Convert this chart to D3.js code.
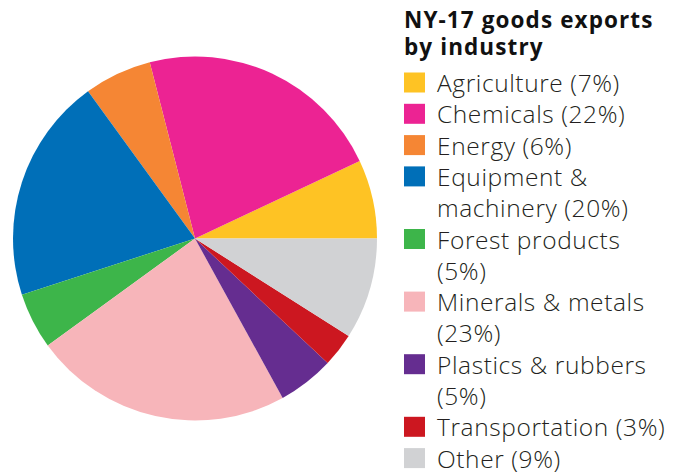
<!DOCTYPE html>
<html><head><meta charset="utf-8">
<script src="https://cdn.jsdelivr.net/npm/d3@7"></script>
<style>html,body{margin:0;padding:0;background:#fff;}</style>
</head><body>
<svg id="chart" width="684" height="474"></svg>
<script>
const categories = ["Agriculture","Chemicals","Energy","Equipment & machinery","Forest products","Minerals & metals","Plastics & rubbers","Transportation","Other"];
const shares = [7,22,6,20,5,23,5,3,9];
const colors = ["#FEC324","#EC2393","#F58634","#006FB8","#3DB54A","#F7B5BA","#652D90","#CC1720","#D1D2D4"];
const titleLines = ["NY-17 goods exports","by industry"];

const svg = d3.select("#chart");
const cx = 195, cy = 238.5, r = 182;

const pie = d3.pie().sort(null).value(d => d).startAngle(Math.PI/2).endAngle(Math.PI/2 - 2*Math.PI);
const arc = d3.arc().innerRadius(0).outerRadius(r);
const g = svg.append("g").attr("transform", `translate(${cx},${cy})`);
g.selectAll("path").data(pie(shares)).join("path")
  .attr("d", arc).attr("fill", (d,i) => colors[i]);

// Legend
const lx = 404, tx = 437, fontSize = 24.5, ls = 0.6, lineH = 31.3, maxW = 234;
const FF = "'Open Sans', sans-serif";
const leg = svg.append("g");
titleLines.forEach((t,i) => {
  leg.append("text").attr("x", lx).attr("y", 28 + i*26.5)
    .attr("font-family",FF).attr("font-weight",700).attr("letter-spacing", 1.1)
    .attr("font-size", 22.5).attr("fill","#111").text(t);
});

const measure = svg.append("text").attr("font-family",FF).attr("font-weight",300).attr("font-size",fontSize).attr("letter-spacing", ls).attr("visibility","hidden");
function wrap(str){
  const words = str.split(" "); const lines=[]; let cur="";
  words.forEach(w => {
    const test = cur ? cur+" "+w : w;
    measure.text(test);
    if (cur && measure.node().getComputedTextLength() > maxW) { lines.push(cur); cur = w; }
    else cur = test;
  });
  lines.push(cur); return lines;
}
let base = 92;
categories.forEach((c,i) => {
  const lines = wrap(`${c} (${shares[i]}%)`);
  leg.append("rect").attr("x", lx).attr("y", base-19.5).attr("width", 21).attr("height", 20).attr("fill", colors[i]);
  lines.forEach((ln,j) => {
    leg.append("text").attr("x", tx).attr("y", base + j*lineH)
      .attr("font-family",FF).attr("font-weight",300).attr("letter-spacing", ls)
      .attr("font-size", fontSize).attr("fill","#231F20").text(ln);
  });
  base += lines.length*lineH;
});
measure.remove();
</script>
</body></html>
